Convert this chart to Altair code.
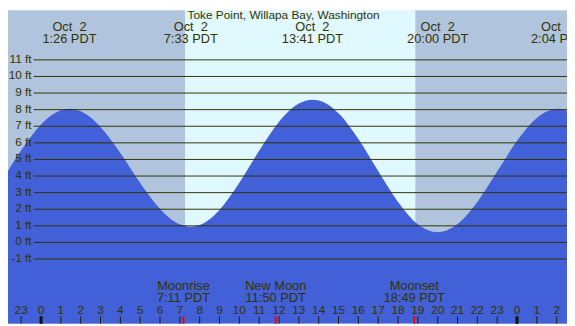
import altair as alt
import pandas as pd

# ---------------- data ----------------
tide_hours = [-3, -2, -1, 0, 1, 1.433, 2, 3, 4, 5, 6, 7, 7.55, 8, 9, 10, 11, 12, 13,
              13.683, 14, 15, 16, 17, 18, 19, 20, 21, 22, 23, 24, 25, 26.067, 27]
tide_ft = [1.95, 3.68, 5.55, 7.11, 7.96, 8.05, 7.90, 6.96, 5.39, 3.58, 2.02, 1.09, 0.95,
           1.05, 1.96, 3.59, 5.52, 7.27, 8.37, 8.60, 8.55, 7.78, 6.23, 4.30, 2.44, 1.10,
           0.62, 1.11, 2.44, 4.27, 6.12, 7.50, 8.05, 7.66]

event_hours = [1.433, 7.55, 13.683, 20.0, 26.067]
event_dates = ["Oct\u00a0 2"] * 5
event_times = ["1:26 PDT", "7:33 PDT", "13:41 PDT", "20:00 PDT", "2:04 PDT"]

period_start = [-4, 7.27, 18.87]
period_end = [7.27, 18.87, 30]
period_kind = ["night", "day", "night"]

moon_hours = [7.183, 11.833, 18.817]
moon_names = ["Moonrise", "New Moon", "Moonset"]
moon_times = ["7:11 PDT", "11:50 PDT", "18:49 PDT"]

levels = list(range(-1, 12))
level_labels = [f"{v} ft" for v in levels]

tick_hours = list(range(-2, 27))
tick_labels = [str(h % 24) for h in tick_hours]
midnight_hours = [0, 24]

title_text = "Toke Point, Willapa Bay, Washington"

# ---------------- scales ----------------
XMIN, XMAX = -1.665, 26.52
YMIN, YMAX = -4.901, 13.99
W, H = 567, 318
FONT = "Liberation Sans"
TXT = "#333300"

xs = alt.Scale(domain=[XMIN, XMAX], nice=False, zero=False)
ys = alt.Scale(domain=[YMIN, YMAX], nice=False, zero=False)

tide = pd.DataFrame({"h": tide_hours, "ft": tide_ft})
events = pd.DataFrame({"h": event_hours, "d": event_dates, "t": event_times})
periods = pd.DataFrame({"s": period_start, "e": period_end, "k": period_kind})
moon = pd.DataFrame({"h": moon_hours, "n": moon_names, "t": moon_times})
lev = pd.DataFrame({"ft": levels, "lab": level_labels})
ticks = pd.DataFrame({"h": tick_hours, "lab": tick_labels})
mid = pd.DataFrame({"h": midnight_hours})
ttl = pd.DataFrame({"t": [title_text]})

bg = alt.Chart(periods).mark_rect().encode(
    x=alt.X("s:Q", scale=xs, axis=None),
    x2="e:Q",
    color=alt.Color("k:N", scale=alt.Scale(domain=["night", "day"],
                                           range=["#b0c4de", "#e0f8ff"]), legend=None),
)

area = alt.Chart(tide).mark_area(color="#4260d8", interpolate="monotone", clip=True).encode(
    x=alt.X("h:Q", scale=xs, axis=None),
    y=alt.Y("ft:Q", scale=ys, axis=None),
    y2=alt.datum(YMIN),
)

rules = alt.Chart(lev).mark_rule(color="#333300", strokeWidth=1).encode(
    y=alt.Y("ft:Q", scale=ys, axis=None),
    x=alt.value(26),
    x2=alt.value(W),
)

ylab = alt.Chart(lev).mark_text(align="right", baseline="middle", font=FONT,
                                fontSize=12, color=TXT, dy=-1).encode(
    y=alt.Y("ft:Q", scale=ys, axis=None),
    x=alt.value(24),
    text="lab:N",
)

ev_d = alt.Chart(events).mark_text(align="center", baseline="alphabetic", font=FONT,
                                   fontSize=13, color=TXT).encode(
    x=alt.X("h:Q", scale=xs, axis=None), y=alt.value(21), text="d:N")
ev_t = alt.Chart(events).mark_text(align="center", baseline="alphabetic", font=FONT,
                                   fontSize=13, color=TXT).encode(
    x=alt.X("h:Q", scale=xs, axis=None), y=alt.value(33), text="t:N")

title = alt.Chart(ttl).mark_text(align="center", baseline="alphabetic", font=FONT,
                                 fontSize=12, color=TXT).encode(
    x=alt.value(279.5), y=alt.value(9), text="t:N")

hticks = alt.Chart(ticks).mark_rule(color="#222200", strokeWidth=1).encode(
    x=alt.X("h:Q", scale=xs, axis=None), y=alt.value(310.5), y2=alt.value(H))
mticks = alt.Chart(mid).mark_rule(color="#111100", strokeWidth=3).encode(
    x=alt.X("h:Q", scale=xs, axis=None), y=alt.value(310.5), y2=alt.value(H))
hlab = alt.Chart(ticks).mark_text(align="center", baseline="alphabetic", font=FONT,
                                  fontSize=12, color=TXT).encode(
    x=alt.X("h:Q", scale=xs, axis=None), y=alt.value(308), text="lab:N")

moont = alt.Chart(moon).mark_rule(color="#ff0000", strokeWidth=2).encode(
    x=alt.X("h:Q", scale=xs, axis=None), y=alt.value(310.5), y2=alt.value(H))
moon_n = alt.Chart(moon).mark_text(align="center", baseline="alphabetic", font=FONT,
                                   fontSize=13, color=TXT).encode(
    x=alt.X("h:Q", scale=xs, axis=None), y=alt.value(284), text="n:N")
moon_t = alt.Chart(moon).mark_text(align="center", baseline="alphabetic", font=FONT,
                                   fontSize=13, color=TXT).encode(
    x=alt.X("h:Q", scale=xs, axis=None), y=alt.value(296), text="t:N")

chart = alt.layer(
    bg, area, rules, ylab, title, ev_d, ev_t, hticks, mticks, moont, hlab, moon_n, moon_t
).properties(
    width=W, height=H, padding=0, autosize=alt.AutoSizeParams(type="none")
).configure_view(stroke=None)

chart.save("out.html", embed_options={"renderer": "svg", "actions": False})
